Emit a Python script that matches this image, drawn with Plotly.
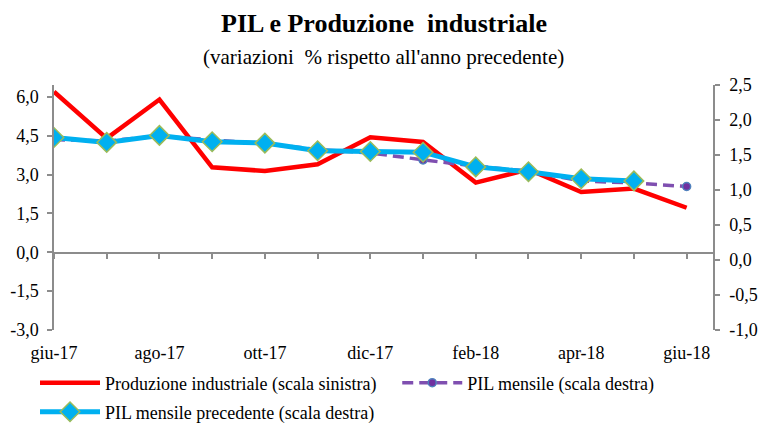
import plotly.graph_objects as go

months = ["giu-17", "lug-17", "ago-17", "set-17", "ott-17", "nov-17", "dic-17",
          "gen-18", "feb-18", "mar-18", "apr-18", "mag-18", "giu-18"]
tick_labels = ["giu-17", "", "ago-17", "", "ott-17", "", "dic-17",
               "", "feb-18", "", "apr-18", "", "giu-18"]
produzione = [6.2, 4.4, 5.9, 3.28, 3.14, 3.4, 4.44, 4.26, 2.69, 3.2, 2.33, 2.46, 1.72]
pil_mensile = [1.72, 1.70, 1.77, 1.71, 1.66, 1.58, 1.53, 1.43, 1.34, 1.27, 1.13, 1.10, 1.05]
pil_precedente = [1.75, 1.68, 1.78, 1.69, 1.67, 1.56, 1.55, 1.54, 1.33, 1.26, 1.16, 1.13]

left_ticks = [-3.0, -1.5, 0.0, 1.5, 3.0, 4.5, 6.0]
right_ticks = [-1.0, -0.5, 0.0, 0.5, 1.0, 1.5, 2.0, 2.5]
left_labels = [f"{v:.1f}".replace(".", ",") for v in left_ticks]
right_labels = [f"{v:.1f}".replace(".", ",") for v in right_ticks]

FONT = "Liberation Serif, Times New Roman, serif"
x = list(range(len(months)))

fig = go.Figure()
fig.add_trace(go.Scatter(
    x=x, y=produzione, name="Produzione industriale (scala sinistra)",
    mode="lines", line=dict(color="#FF0000", width=4.5), yaxis="y", legend="legend"))
fig.add_trace(go.Scatter(
    x=x, y=pil_mensile, name="PIL mensile (scala destra)",
    mode="lines+markers", line=dict(color="#7F4FB0", width=3.5, dash="11px,6px"),
    marker=dict(symbol="circle", size=8, color="#7030A0",
                line=dict(color="#4F81BD", width=1.5)), yaxis="y2", legend="legend2"))
fig.add_trace(go.Scatter(
    x=x[:len(pil_precedente)], y=pil_precedente, name="PIL mensile precedente (scala destra)",
    mode="lines+markers", line=dict(color="#00B0F0", width=5),
    marker=dict(symbol="diamond", size=15, color="#00B0F0",
                line=dict(color="#9BBB59", width=1.5)), yaxis="y2", legend="legend3"))
# dummy trace to activate the axis line at zero
fig.add_trace(go.Scatter(x=[0], y=[None], xaxis="x2", showlegend=False, hoverinfo="skip"))

axis_color = "#8C8C8C"
leg_common = dict(orientation="v", xref="container", yref="container",
                  xanchor="left", yanchor="middle",
                  font=dict(family=FONT, size=18), itemwidth=60,
                  bgcolor="rgba(0,0,0,0)")
fig.update_layout(
    width=761, height=423,
    paper_bgcolor="white", plot_bgcolor="white",
    margin=dict(l=54, r=48, t=85, b=93, autoexpand=False),
    font=dict(family=FONT, size=18, color="#000000"),
    showlegend=True,
    legend=dict(x=0.046, y=0.0946, **leg_common),
    legend2=dict(x=0.522, y=0.0946, **leg_common),
    legend3=dict(x=0.046, y=0.026, **leg_common),
    xaxis=dict(range=[0, 12.5], tickmode="array", tickvals=x, ticktext=tick_labels,
               showline=False, showgrid=False, zeroline=False, ticks="",
               tickfont=dict(family=FONT, size=18), ticklabelstandoff=10),
    xaxis2=dict(overlaying="x", matches="x", anchor="free", position=0.314,
                tickmode="array", tickvals=x, showticklabels=False,
                showline=True, linecolor=axis_color, linewidth=1.5,
                ticks="outside", ticklen=5, tickcolor=axis_color, tickwidth=1.5,
                showgrid=False, zeroline=False),
    yaxis=dict(range=[-3, 6.46], tickmode="array", tickvals=left_ticks,
               ticktext=left_labels, showline=True, linecolor=axis_color, linewidth=1.5,
               ticks="outside", ticklen=5, tickcolor=axis_color, tickwidth=1.5,
               showgrid=False, zeroline=False, ticklabelstandoff=5,
               tickfont=dict(family=FONT, size=18)),
    yaxis2=dict(range=[-1, 2.5], tickmode="array", tickvals=right_ticks,
                ticktext=right_labels, overlaying="y", side="right", anchor="x",
                showline=True, linecolor=axis_color, linewidth=1.5,
                ticks="outside", ticklen=5, tickcolor=axis_color, tickwidth=1.5,
                showgrid=False, zeroline=False, ticklabelstandoff=6,
                tickfont=dict(family=FONT, size=18)),
    annotations=[
        dict(text="<b>PIL e Produzione&nbsp; industriale</b>", xref="paper", yref="paper",
             x=0.5, y=1, yshift=62, xanchor="center", yanchor="middle",
             showarrow=False, font=dict(family=FONT, size=26)),
        dict(text="(variazioni&nbsp; % rispetto all'anno precedente)", xref="paper", yref="paper",
             x=0.5, y=1, yshift=28, xanchor="center", yanchor="middle",
             showarrow=False, font=dict(family=FONT, size=21)),
    ],
)

fig.write_html("out.html", config={"displayModeBar": False},
               post_script="document.body.style.margin='0';document.body.style.overflow='hidden';")
